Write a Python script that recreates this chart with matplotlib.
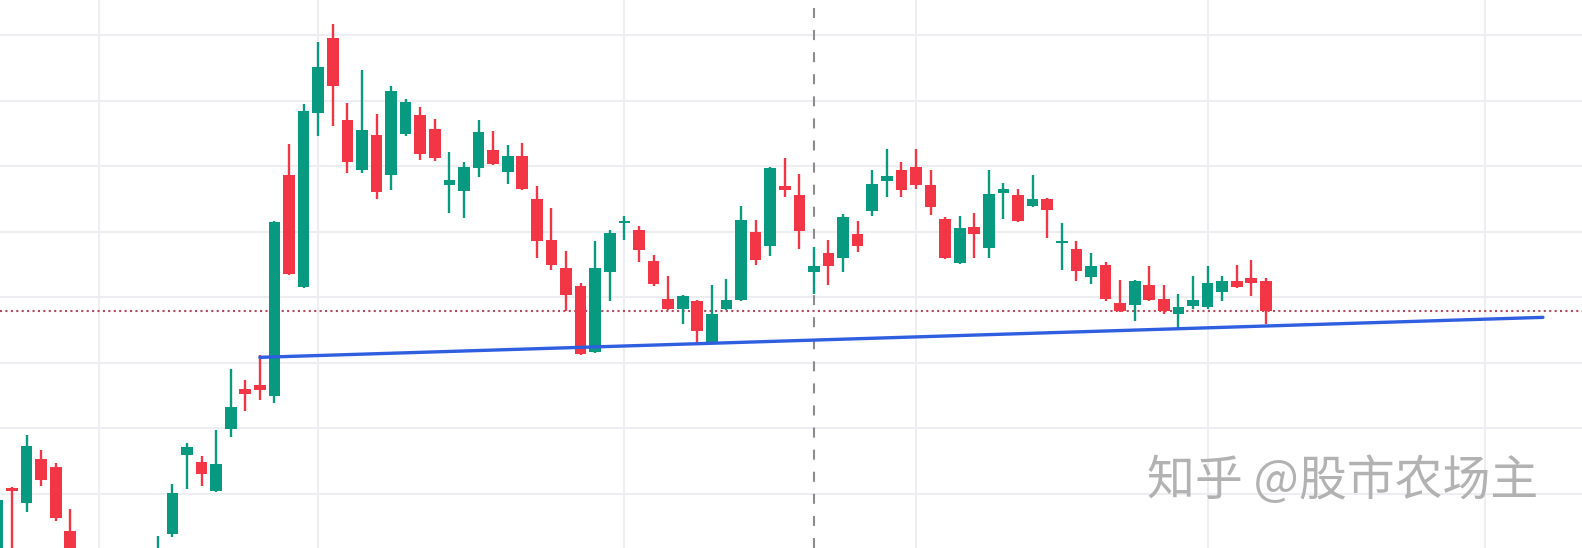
import matplotlib
matplotlib.use("Agg")
import matplotlib.pyplot as plt
import numpy as np

# daily candles, index -1 .. 86 (a few sit below the visible window)
opens = [15.83, 17.08, 16.85, 17.53, 17.40, 16.43, 15.76, 15.37, 15.07, 15.37,
         15.60, 15.53, 16.38, 17.59, 17.48, 17.04, 17.98, 18.60, 18.66, 18.49,
         21.86, 20.15, 22.81, 23.95, 22.70, 21.94, 22.47, 21.86, 22.49, 22.78,
         22.57, 21.71, 21.62, 21.97, 22.24, 21.91, 22.15, 21.50, 20.87, 20.44,
         20.17, 19.16, 20.38, 21.13, 21.02, 20.55, 19.97, 19.82, 19.94, 19.31,
         19.82, 19.95, 20.99, 20.78, 21.69, 21.56, 20.38, 20.67, 20.60, 20.96,
         21.31, 21.77, 21.94, 21.98, 21.71, 21.19, 20.52, 21.07, 20.75, 21.59,
         21.56, 21.39, 21.50, 20.82, 20.73, 20.31, 20.49, 19.91, 19.88, 20.18,
         19.97, 19.74, 19.86, 19.85, 20.08, 20.24, 20.29, 20.24]
highs = [16.93, 17.10, 17.89, 17.66, 17.47, 16.76, 15.83, 15.53, 15.45, 15.76,
         15.98, 16.35, 17.15, 17.77, 17.57, 17.97, 18.90, 18.73, 19.11, 21.16,
         22.34, 22.95, 23.89, 24.17, 22.96, 23.47, 22.79, 23.22, 23.02, 22.90,
         22.72, 22.21, 22.06, 22.70, 22.53, 22.32, 22.35, 21.69, 21.36, 20.70,
         20.21, 20.86, 21.02, 21.24, 21.08, 20.64, 20.32, 20.03, 19.95, 20.18,
         20.27, 21.39, 21.18, 21.98, 22.12, 21.88, 20.76, 20.87, 21.27, 21.16,
         21.94, 22.26, 22.06, 22.26, 21.94, 21.22, 21.24, 21.28, 21.94, 21.74,
         21.65, 21.86, 21.51, 21.13, 20.86, 20.67, 20.53, 20.26, 20.26, 20.47,
         20.18, 20.05, 20.32, 20.47, 20.32, 20.49, 20.57, 20.29]
lows = [15.68, 15.98, 16.72, 17.11, 16.58, 15.60, 15.22, 14.92, 14.84, 15.22,
        15.45, 15.37, 16.34, 17.07, 17.11, 17.02, 17.86, 18.26, 18.43, 18.38,
        20.34, 20.14, 22.46, 22.61, 21.89, 21.89, 21.50, 21.63, 22.46, 22.09,
        22.08, 21.28, 21.21, 21.83, 22.02, 21.73, 21.63, 20.60, 20.41, 19.79,
        19.11, 19.15, 19.94, 20.87, 20.53, 20.17, 19.80, 19.59, 19.30, 19.30,
        19.80, 19.94, 20.49, 20.63, 21.53, 20.73, 20.05, 20.18, 20.38, 20.69,
        21.24, 21.53, 21.53, 21.65, 21.25, 20.58, 20.50, 20.60, 20.60, 21.19,
        21.15, 21.37, 20.90, 20.41, 20.24, 20.20, 19.94, 19.77, 19.63, 19.94,
        19.74, 19.53, 19.82, 19.82, 19.94, 20.14, 20.02, 19.59]
closes = [16.90, 17.04, 17.73, 17.21, 16.63, 15.76, 15.37, 15.07, 15.37, 15.60,
          15.83, 16.11, 17.01, 17.71, 17.30, 17.45, 18.32, 18.52, 18.58, 21.15,
          20.35, 22.84, 23.51, 23.22, 22.06, 22.55, 21.60, 23.15, 22.98, 22.18,
          22.12, 21.79, 21.98, 22.52, 22.03, 22.15, 21.65, 20.86, 20.49, 20.03,
          19.13, 20.44, 20.98, 21.16, 20.72, 20.20, 19.82, 20.02, 19.48, 19.74,
          19.95, 21.18, 20.57, 21.97, 21.63, 21.01, 20.47, 20.47, 21.22, 20.78,
          21.73, 21.85, 21.63, 21.71, 21.37, 20.60, 21.05, 20.96, 21.57, 21.65,
          21.16, 21.50, 21.33, 20.86, 20.40, 20.47, 19.97, 19.79, 20.24, 19.95,
          19.79, 19.85, 19.95, 20.21, 20.24, 20.15, 20.21, 19.79]

# support line drawn across the lows, and marks on the chart
trend_x = [17, 105]
trend_y = [19.08, 19.69]
last_price = 19.79
marker_bar = 55
month_starts = [6, 21, 42, 62, 82, 101]
price_levels = [17, 18, 19, 20, 21, 22, 23, 24]

up_color = "#089981"
down_color = "#f23645"

o = np.array(opens)
h = np.array(highs)
l = np.array(lows)
c = np.array(closes)
x = np.arange(-1, -1 + len(o))
colors = np.where(c >= o, up_color, down_color)

plt.rcParams["font.family"] = ["Noto Sans CJK SC", "DejaVu Sans"]

fig = plt.figure(figsize=(15.82, 5.48), dpi=100)
ax = fig.add_axes([0, 0, 1, 1])
ax.set_xlim(-0.823, 107.68)
ax.set_ylim(16.17, 24.534)
ax.axis("off")

for lv in price_levels:
    ax.axhline(lv, color="#edeef1", lw=1.5, zorder=0)
for m in month_starts:
    ax.axvline(m, color="#edeef1", lw=1.5, zorder=0)

ax.vlines(x, l, h, colors=colors, lw=1.7, zorder=2)
ax.bar(x, np.abs(c - o), bottom=np.minimum(o, c), width=0.8,
       color=colors, edgecolor="none", zorder=3)

ax.axhline(last_price, color="#b5485a", lw=1.5, ls=(0, (1, 1.6)), zorder=1)
ax.axvline(marker_bar, color="#8c8c8c", lw=1.5, ls=(0, (4.8, 5.8)), zorder=1)
ax.plot(trend_x, trend_y, color="#2f5ee0", lw=2.4, solid_capstyle="round",
        zorder=4)

ax.text(1147 / 1582, 1 - 481 / 548, "知乎 @股市农场主", transform=ax.transAxes,
        fontsize=34.5, color="#b2b2b2", ha="left", va="center", zorder=5)

fig.savefig("out.png", dpi=100)
